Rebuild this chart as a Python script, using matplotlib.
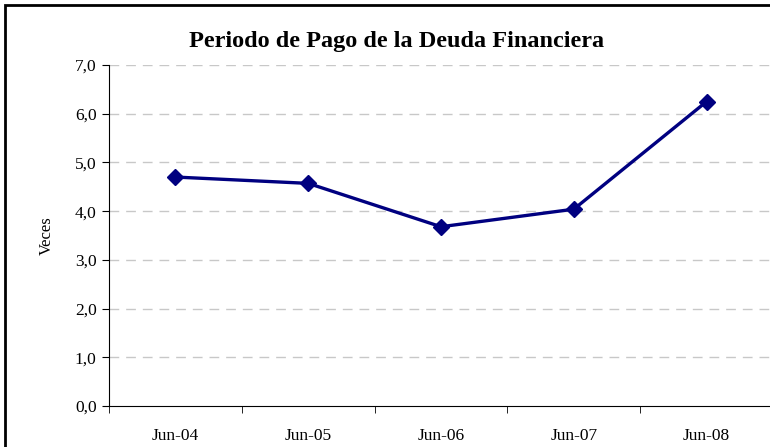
import matplotlib.pyplot as plt
import matplotlib.patches as patches
from matplotlib.ticker import FixedLocator

periods = ['Jun-04', 'Jun-05', 'Jun-06', 'Jun-07', 'Jun-08']
veces = [4.70, 4.57, 3.68, 4.04, 6.25]
y_ticks = [0, 1, 2, 3, 4, 5, 6, 7]
y_labels = ['0,0', '1,0', '2,0', '3,0', '4,0', '5,0', '6,0', '7,0']

plt.rcParams['font.family'] = 'Liberation Serif'

fig = plt.figure(figsize=(7.7, 4.47), dpi=100)
ax = fig.add_axes([109 / 770, 1 - 406 / 447, 664 / 770, 341 / 447])

x = range(len(periods))
ax.plot(x, veces, color='#000080', linewidth=2.4, marker='D', markersize=8.5)

ax.set_xlim(-0.5, len(periods) - 0.5)
ax.set_ylim(0, 7)
ax.set_yticks(y_ticks)
ax.set_yticklabels(y_labels, fontsize=12.5)
ax.set_xticks(list(x))
ax.set_xticklabels(periods, fontsize=12.5)
ax.xaxis.set_minor_locator(FixedLocator([i - 0.5 for i in range(len(periods) + 1)]))
ax.tick_params(axis='x', which='major', length=0, pad=16)
ax.tick_params(axis='x', which='minor', length=5, direction='out', color='black')
ax.tick_params(axis='y', length=5, direction='out', pad=4)

for v in y_ticks[1:]:
    ax.axhline(v, color='#c8c8c8', linewidth=1, linestyle=(0, (7, 5)), zorder=0)

ax.spines['top'].set_visible(False)
ax.spines['right'].set_visible(False)
ax.spines['left'].set_color('black')
ax.spines['bottom'].set_color('black')

ax.set_ylabel('Veces', fontsize=12, labelpad=14)
fig.text(397 / 770, 1 - 42 / 447, 'Periodo de Pago de la Deuda Financiera',
         ha='center', va='center', fontsize=17.5, fontweight='bold')

border = patches.Rectangle((5 / 770, -0.2), 1.2, 1 - 5 / 447 + 0.2,
                           transform=fig.transFigure, fill=False,
                           edgecolor='black', linewidth=2, clip_on=False)
fig.patches.append(border)

fig.savefig('out.png', dpi=100)
